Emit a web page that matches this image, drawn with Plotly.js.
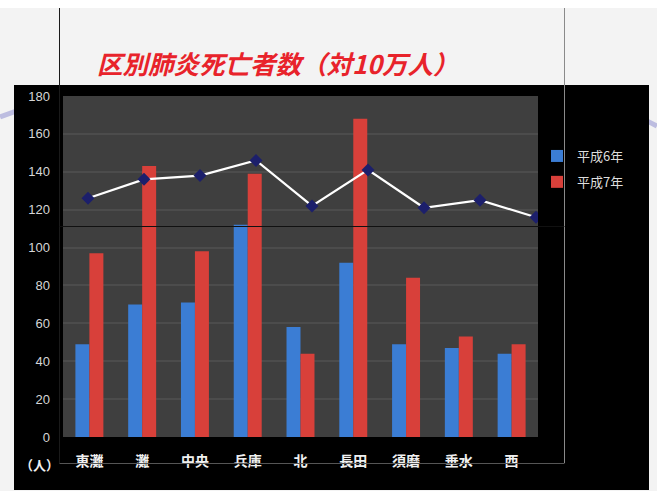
<!DOCTYPE html>
<html>
<head>
<meta charset="utf-8">
<script src="https://cdn.plot.ly/plotly-3.0.1.min.js"></script>
<style>
html,body{margin:0;padding:0;background:#f3f3f3;}
#chart{width:657px;height:491px;}
</style>
</head>
<body>
<div id="chart"></div>
<script>
// ---- data ----
const categories = ['東灘','灘','中央','兵庫','北','長田','須磨','垂水','西'];
const heisei6 = [49, 70, 71, 112, 58, 92, 49, 47, 44];
const heisei7 = [97, 143, 98, 139, 44, 168, 84, 53, 49];
const rateLine = [126, 136, 138, 146, 122, 141, 121, 125, 116];
const yTicks = [0, 20, 40, 60, 80, 100, 120, 140, 160, 180];

// ---- layout helpers (pixel -> paper) ----
const W = 657, H = 491;
const px = x => x / W;
const py = y => 1 - y / H;

const traces = [
  {type:'bar', name:'平成6年', x:categories, y:heisei6, marker:{color:'#3b7dd4'},
   legendgroup:'a', hoverinfo:'x+y'},
  {type:'bar', name:'平成7年', x:categories, y:heisei7, marker:{color:'#d8403a'},
   legendgroup:'b', hoverinfo:'x+y'},
  {type:'scatter', mode:'lines+markers', name:'', x:categories, y:rateLine,
   xaxis:'x2', yaxis:'y', showlegend:false,
   line:{color:'#ffffff', width:2.2},
   marker:{symbol:'diamond', size:10, color:'#1c1f6b'}}
];

const layout = {
  width: W, height: H,
  margin:{l:0, r:0, t:0, b:0},
  paper_bgcolor:'#f3f3f3',
  plot_bgcolor:'rgba(0,0,0,0)',
  showlegend:true,
  barmode:'group',
  bargap:0.47,
  bargroupgap:0,
  title:{
    text:'区別肺炎死亡者数（対10万人）',
    xref:'paper', yref:'paper',
    x:px(97), xanchor:'left',
    y:py(65), yanchor:'middle',
    font:{family:'Noto Sans CJK JP', size:25.5, color:'#e8232b', weight:'bold', style:'italic'}
  },
  xaxis:{
    domain:[px(63), px(538)],
    type:'category', categoryarray:categories,
    showgrid:false, zeroline:false, showline:false,
    ticks:'', ticklabelstandoff:14,
    tickfont:{family:'Noto Sans CJK JP', size:14, color:'#f0f0f0', weight:'bold'},
    automargin:false, fixedrange:true
  },
  xaxis2:{
    overlaying:'x', domain:[px(63), px(538)],
    type:'category', categoryarray:categories,
    range:[-0.446, 8.036], visible:false, fixedrange:true
  },
  yaxis:{
    domain:[py(437), py(96)],
    range:[0,180], tickvals:yTicks, ticktext:yTicks.map(String),
    showgrid:true, gridcolor:'#4c4c4c', gridwidth:2,
    zeroline:false, showline:false, ticks:'', ticklabelstandoff:12,
    tickfont:{family:'Liberation Sans', size:13, color:'#d6d6d6'},
    automargin:false, fixedrange:true
  },
  legend:{
    x:px(537), y:py(141), xanchor:'left', yanchor:'top',
    bgcolor:'rgba(0,0,0,0)',
    font:{family:'Noto Sans CJK JP', size:13, color:'#dedede'},
    traceorder:'grouped', tracegroupgap:6,
    itemwidth:30
  },
  shapes:[
    // white band at top
    {type:'rect', xref:'paper', yref:'paper', x0:0, x1:1, y0:py(8), y1:1,
     fillcolor:'#ffffff', line:{width:0}, layer:'below'},
    // lavender swirls
    {type:'path', xref:'paper', yref:'paper', layer:'below',
     path:`M ${px(0)} ${py(117)} Q ${px(25)} ${py(106)} ${px(60)} ${py(104)}`,
     line:{color:'#bdbde0', width:5}},
    {type:'path', xref:'paper', yref:'paper', layer:'below',
     path:`M ${px(640)} ${py(118)} Q ${px(650)} ${py(122)} ${px(657)} ${py(126)}`,
     line:{color:'#bdbde0', width:5}},
    // black chart box
    {type:'rect', xref:'paper', yref:'paper', x0:px(14), x1:px(649), y0:py(490), y1:py(85),
     fillcolor:'#000000', line:{width:0}, layer:'below'},
    // gray plot area
    {type:'rect', xref:'paper', yref:'paper', x0:px(63), x1:px(538), y0:py(437), y1:py(96),
     fillcolor:'#3f3f3f', line:{width:0}, layer:'below'},
    // frame lines
    {type:'line', xref:'paper', yref:'paper', x0:px(59.5), x1:px(59.5), y0:py(8), y1:py(463),
     line:{color:'#1a1a1a', width:1}, layer:'above'},
    {type:'line', xref:'paper', yref:'paper', x0:px(564.5), x1:px(564.5), y0:py(8), y1:py(463),
     line:{color:'#8a8a8a', width:1}, layer:'above'},
    {type:'line', xref:'paper', yref:'paper', x0:px(59.5), x1:px(564.5), y0:py(463.5), y1:py(463.5),
     line:{color:'#555555', width:1}, layer:'above'},
    {type:'line', xref:'paper', yref:'paper', x0:px(59.5), x1:px(564.5), y0:py(226.5), y1:py(226.5),
     line:{color:'#111111', width:1}, layer:'above'}
  ],
  annotations:[
    {text:'（人）', xref:'paper', yref:'paper', x:px(39), y:py(464),
     xanchor:'center', yanchor:'middle', showarrow:false,
     font:{family:'Noto Sans CJK JP', size:13, color:'#f0f0f0', weight:'bold'}}
  ]
};

Plotly.newPlot('chart', traces, layout, {displayModeBar:false, staticPlot:true});
</script>
</body>
</html>
